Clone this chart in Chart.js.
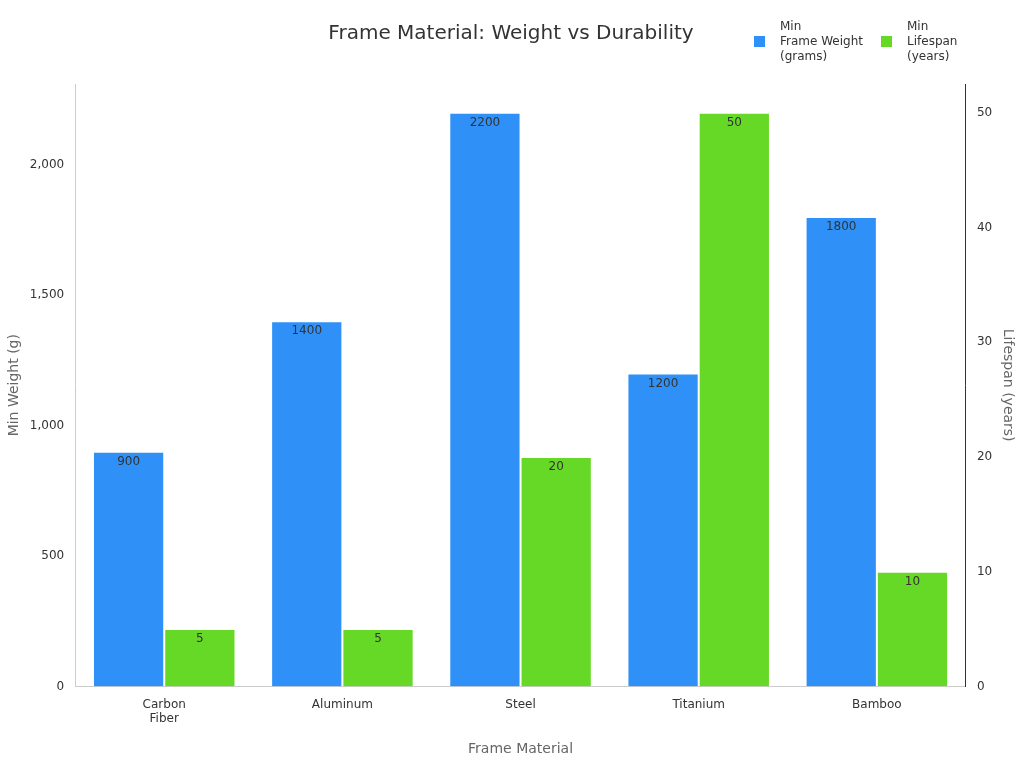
<!DOCTYPE html>
<html>
<head>
<meta charset="utf-8">
<script src="https://cdn.jsdelivr.net/npm/chart.js@4"></script>
<style>
  body { margin: 0; background: #fff; font-family: "DejaVu Sans", sans-serif; }
  #wrap { position: relative; width: 1024px; height: 768px; }
  #legend { position: absolute; top: 19px; left: 754px; display: flex; gap: 18px; font-size: 12px; color: #333; line-height: 15px; }
  .item { display: flex; align-items: center; }
  .sw { width: 11px; height: 11px; margin-right: 15px; }
</style>
</head>
<body>
<div id="wrap">
  <canvas id="c" width="1024" height="768"></canvas>
  <div id="legend">
    <div class="item"><span class="sw" style="background:#2f91f7"></span><span>Min<br>Frame Weight<br>(grams)</span></div>
    <div class="item"><span class="sw" style="background:#66d926"></span><span>Min<br>Lifespan<br>(years)</span></div>
  </div>
</div>
<script>
const materials = [['Carbon', 'Fiber'], 'Aluminum', 'Steel', 'Titanium', 'Bamboo'];
const weights = [900, 1400, 2200, 1200, 1800];
const lifespans = [5, 5, 20, 50, 10];

// value labels just inside the top of each bar
const barLabels = {
  id: 'barLabels',
  afterDatasetsDraw(chart) {
    const ctx = chart.ctx;
    ctx.save();
    ctx.font = '12px "DejaVu Sans"';
    ctx.fillStyle = '#333';
    ctx.textAlign = 'center';
    ctx.textBaseline = 'top';
    chart.data.datasets.forEach((ds, i) => {
      chart.getDatasetMeta(i).data.forEach((bar, j) => {
        ctx.fillText(ds.data[j], bar.x, bar.y + 4);
      });
    });
    ctx.restore();
  }
};

new Chart(document.getElementById('c'), {
  type: 'bar',
  data: {
    labels: materials,
    datasets: [
      { label: 'Min Frame Weight (grams)', data: weights, backgroundColor: '#2f91f7', borderColor: '#ffffff', borderWidth: 1, yAxisID: 'y' },
      { label: 'Min Lifespan (years)', data: lifespans, backgroundColor: '#66d926', borderColor: '#ffffff', borderWidth: 1, yAxisID: 'y1' }
    ]
  },
  options: {
    responsive: false,
    animation: false,
    layout: { padding: { left: 2, right: 4, bottom: 6 } },
    datasets: { bar: { categoryPercentage: 0.8, barPercentage: 1 } },
    plugins: {
      legend: { display: false },
      tooltip: { enabled: false },
      title: {
        display: true,
        text: 'Frame Material: Weight vs Durability',
        font: { family: 'DejaVu Sans', size: 20, weight: 'normal' },
        color: '#333',
        padding: { top: 22, bottom: 38 }
      }
    },
    scales: {
      x: {
        grid: { display: false },
        border: { color: '#ccc' },
        ticks: { color: '#333', font: { family: 'DejaVu Sans', size: 12 } },
        title: { display: true, text: 'Frame Material', color: '#666', font: { family: 'DejaVu Sans', size: 14 }, padding: { top: 12 } }
      },
      y: {
        position: 'left',
        min: 0, max: 2310,
        grid: { display: false },
        border: { color: '#ccc' },
        ticks: { stepSize: 500, color: '#333', font: { family: 'DejaVu Sans', size: 12 } },
        afterBuildTicks(axis) { axis.ticks = [0, 500, 1000, 1500, 2000].map(v => ({ value: v })); },
        title: { display: true, text: 'Min Weight (g)', color: '#666', font: { family: 'DejaVu Sans', size: 14 } }
      },
      y1: {
        position: 'right',
        min: 0, max: 52.5,
        grid: { display: false },
        border: { color: '#333' },
        ticks: { stepSize: 10, color: '#333', font: { family: 'DejaVu Sans', size: 12 } },
        afterBuildTicks(axis) { axis.ticks = [0, 10, 20, 30, 40, 50].map(v => ({ value: v })); },
        title: { display: true, text: 'Lifespan (years)', color: '#666', font: { family: 'DejaVu Sans', size: 14 } }
      }
    }
  },
  plugins: [barLabels]
});
</script>
</body>
</html>
